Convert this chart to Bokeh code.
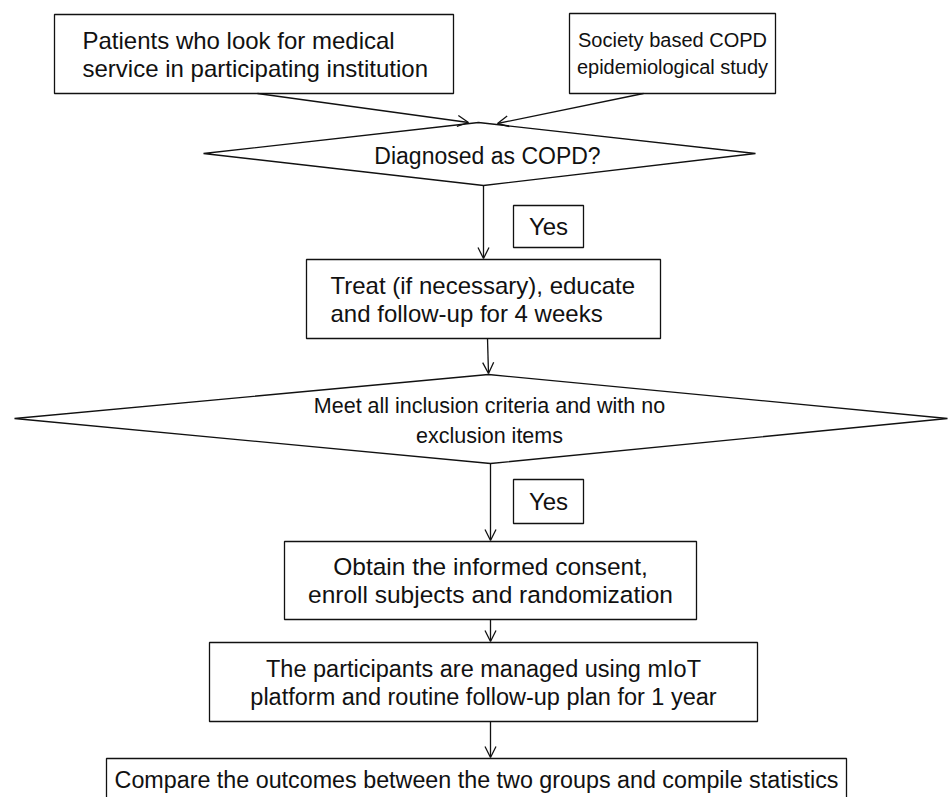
from bokeh.plotting import figure
from bokeh.models import Range1d, ColumnDataSource, Arrow, OpenHead
from bokeh.core.properties import value
from bokeh.embed import file_html
from bokeh.resources import INLINE

# ---- Flowchart content (positions, in pixels) ----
box_lines = [
    ["Patients who look for medical", "service in participating institution"],
    ["Society based COPD", "epidemiological study"],
    ["Yes"],
    ["Treat (if necessary), educate", "and follow-up for 4 weeks"],
    ["Yes"],
    ["Obtain the informed consent,", "enroll subjects and randomization"],
    ["The participants are managed using mIoT", "platform and routine follow-up plan for 1 year"],
    ["Compare the outcomes between the two groups and compile statistics"],
]
box_left = [54, 569, 513, 306, 513, 284, 209, 106]
box_right = [453, 775, 583, 660, 583, 696, 757, 846]
box_top = [14, 13, 205, 259, 479, 541, 642, 758]
box_bottom = [93, 93, 247, 338, 523, 619, 721, 830]
box_text_x = [82, 672, 548, 330, 548, 490, 483, 476]
box_text_y = [54, 53, 226, 299, 501, 580, 682, 779]

dia_lines = [
    ["Diagnosed as COPD?"],
    ["Meet all inclusion criteria and with no", "exclusion items"],
]
dia_xs = [[203, 478, 755, 483], [14, 488, 947, 490]]
dia_ys = [[153, 122, 153, 185], [418, 374, 418, 463]]
dia_text_x = [487, 489]
dia_text_y = [155, 420]

arrow_x0 = [257, 643, 483, 487, 490, 490, 490]
arrow_y0 = [93, 93, 185, 338, 463, 619, 721]
arrow_x1 = [468, 497, 483, 488, 490, 490, 490]
arrow_y1 = [122, 123, 258, 373, 540, 641, 757]

# ---- Styles ----
box_align = ["left", "center", "center", "left", "center", "center", "center", "center"]
box_font = [24, 20, 24, 24, 24, 24.5, 23.5, 23.3]
box_lh = [28, 27, 28, 28, 28, 28, 28, 28]
dia_font = [23, 21.5]
dia_lh = [28, 30]
LINE_COLOR = "#111111"
LW = 1.3
FONT = value("Liberation Sans")

# ---- Figure (pixel-identity mapping) ----
W, H = 948, 797
p = figure(width=W, height=H, output_backend="svg", toolbar_location=None,
           x_range=Range1d(0, W), y_range=Range1d(H, 0),
           min_border=0, outline_line_color=None)
p.axis.visible = False
p.grid.visible = False
p.background_fill_color = "white"
p.border_fill_color = "white"

p.quad(left=box_left, right=box_right, top=box_top, bottom=box_bottom,
       fill_color="white", line_color=LINE_COLOR, line_width=LW)

p.patches(xs=dia_xs, ys=dia_ys, fill_color="white", line_color=LINE_COLOR, line_width=LW)

src = ColumnDataSource(dict(x0=arrow_x0, y0=arrow_y0, x1=arrow_x1, y1=arrow_y1))
p.add_layout(Arrow(x_start="x0", y_start="y0", x_end="x1", y_end="y1", source=src,
                   line_color=LINE_COLOR, line_width=LW,
                   end=OpenHead(size=11, line_color=LINE_COLOR, line_width=LW)))

def add_text(lines_list, xs, ys, aligns, sizes, lhs):
    for lines, x, y, al, fs, lh in zip(lines_list, xs, ys, aligns, sizes, lhs):
        n = len(lines)
        for i, t in enumerate(lines):
            yy = y + (i - (n - 1) / 2) * lh
            p.text(x=[x], y=[yy], text=[t], text_font=FONT, text_font_size=f"{fs}px",
                   text_align=al, text_baseline="middle", text_color="#111111")

add_text(box_lines, box_text_x, box_text_y, box_align, box_font, box_lh)
add_text(dia_lines, dia_text_x, dia_text_y, ["center"] * len(dia_lines), dia_font, dia_lh)

open("out.html", "w").write(file_html(p, INLINE))
